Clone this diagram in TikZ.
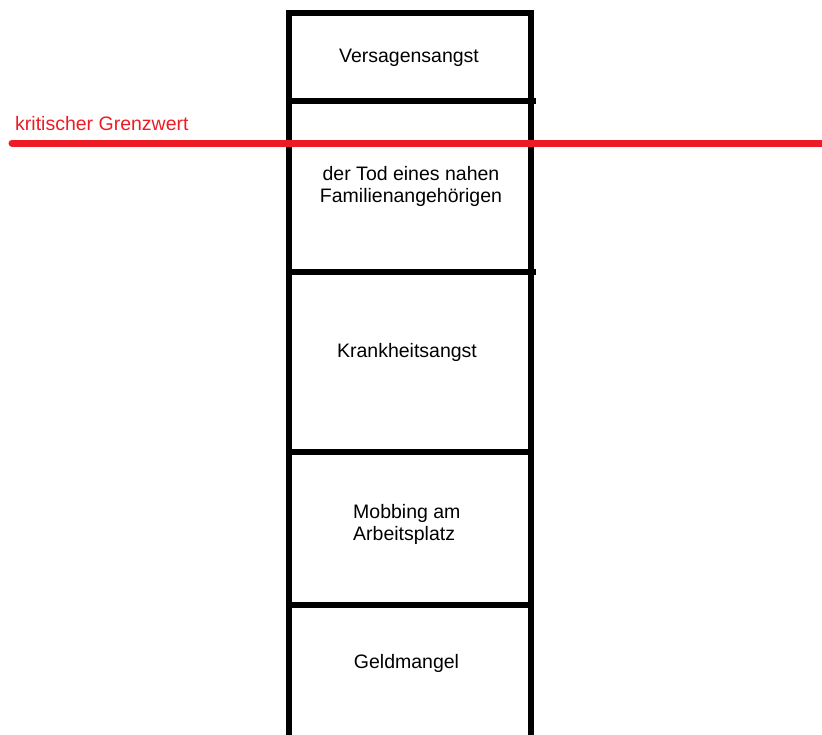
\documentclass[tikz,border=0pt]{standalone}
\usepackage{fontspec}
\setmainfont{Liberation Sans}
\usetikzlibrary{positioning}
\definecolor{paintred}{RGB}{237,28,36}
\tikzset{
  column/.style={line width=6pt, black},
  limit/.style={line width=7pt, paintred, line cap=round},
  boxtext/.style={anchor=base, inner sep=0pt, align=center,
    font=\fontsize{19.5}{21.5}\selectfont},
}
\begin{document}
\begin{tikzpicture}[x=1pt,y=-1pt]
  \useasboundingbox (0,0) rectangle (822,734);
  \clip (0,0) rectangle (822,734);
  % Saeule
  \draw[column] (289,745) -- (289,13) -- (531,13) -- (531,745);
  \draw[column] (289,101) -- (536,101);
  \draw[column] (289,272) -- (536,272);
  \draw[column] (289,452) -- (531,452);
  \draw[column] (289,605) -- (531,605);
  % Grenzwert
  \draw[limit] (12,143) -- (826,143);
  \node[boxtext, anchor=base west, text=paintred] (limit) at (15,130) {kritischer Grenzwert};
  % Texte
  \node[boxtext] (fear) at (409,62) {Versagensangst};
  \node[boxtext] (death) at (411,202) {der Tod eines nahen\\Familienangehörigen};
  \node[boxtext] (ill) at (407,357) {Krankheitsangst};
  \node[boxtext, anchor=base west, align=left] (mob) at (353,540) {Mobbing am\\Arbeitsplatz};
  \node[boxtext] (money) at (406.5,668) {Geldmangel};
\end{tikzpicture}
\end{document}
